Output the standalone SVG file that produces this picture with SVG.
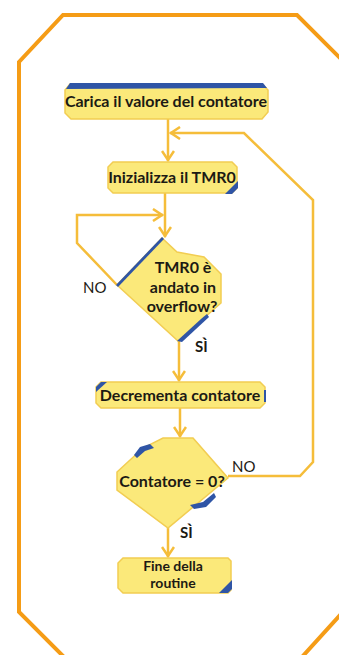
<svg xmlns="http://www.w3.org/2000/svg" width="339" height="655" viewBox="0 0 339 655">
<defs>
<style>
.frame{fill:none;stroke:#f59c16;stroke-width:4;stroke-linejoin:miter}
.box{fill:#fbe97a;stroke:#f2cd52;stroke-width:1.5}
.blue{fill:#2f55a6}
.con{fill:none;stroke:#f5bd3a;stroke-width:2.5;stroke-linejoin:miter}
.t{font-family:Lato,"Open Sans","DejaVu Sans",sans-serif;font-weight:bold;font-size:16px;fill:#1c1a14;text-anchor:middle}
.lbl{font-family:Lato,"Open Sans","DejaVu Sans",sans-serif;font-size:15px;fill:#1c1a14}
</style>
<marker id="ah" viewBox="0 0 12 14" refX="11" refY="7" markerWidth="12" markerHeight="14" markerUnits="userSpaceOnUse" orient="auto">
<path d="M1,1 L10,7 L1,13" fill="none" stroke="#f5bd3a" stroke-width="2.5"/>
</marker>
</defs>
<rect width="339" height="655" fill="#ffffff"/>
<polygon class="frame" points="63,15 297,15 341,59 341,614 302,657 64,657 19,612 19,62"/>
<g id="connectors">
<path class="con" d="M168,119 L168,161" marker-end="url(#ah)"/>
<path class="con" d="M228,476 L300,476 L313,462 L313,200 L244,133 L170,133" marker-end="url(#ah)"/>
<path class="con" d="M165,193 L165,237" marker-end="url(#ah)"/>
<path class="con" d="M117,285 L77,243 L77,215 L163,215" marker-end="url(#ah)"/>
<path class="con" d="M179,341 L179,381" marker-end="url(#ah)"/>
<path class="con" d="M180,408 L180,437" marker-end="url(#ah)"/>
<path class="con" d="M168,528 L168,557" marker-end="url(#ah)"/>
</g>
<g id="n1">
<path class="box" d="M70,84 L262,84 L268,90 L268,112 L262,119 L71,119 L65,113 L65,90 Z"/>
<path class="blue" d="M66,89 L70,83 L263,83 L267,88 Z"/>
<text class="t" x="166" y="107">Carica il valore del contatore</text>
</g>
<g id="n2">
<path class="box" d="M113,162 L232,162 L237,167 L237,188 L232,193 L113,193 L108,188 L108,167 Z"/>
<path class="blue" d="M225,194 L232,194 L238,188 L238,181 Z"/>
<text class="t" x="172" y="183">Inizializza il TMR0</text>
</g>
<g id="n3">
<path class="box" d="M162,238 L177,252 L204,257 L221,274 L221,303 L178,341 L117,285 Z"/>
<path class="blue" d="M116,285 L162,237 L164,239 L118,287 Z"/>
<path class="blue" d="M177,341 L201,319 L207,314 L209,317 L182,342 Z"/>
<text class="t" x="183" y="273">TMR0 è</text>
<text class="t" x="183" y="293">andato in</text>
<text class="t" x="182" y="312">overflow?</text>
</g>
<g id="n4">
<path class="box" d="M101,382 L260,382 L265,387 L265,403 L260,408 L101,408 L96,403 L96,387 Z"/>
<path class="blue" d="M96,392 L96,387 L101,382 L107,382 Z"/>
<rect class="blue" x="264" y="390" width="2" height="12"/>
<text class="t" x="180" y="401">Decrementa contatore</text>
</g>
<g id="n5">
<path class="box" d="M163,438 L193,438 L228,478 L168,528 L117,490 L117,472 L143,448 Z"/>
<path class="blue" d="M140,447 L150,444 L154,448 L145,451 L137,458 L134,455 Z"/>
<path class="blue" d="M190,505 L203,502 L214,493 L216,497 L206,507 L194,509 Z"/>
<text class="t" x="172" y="487">Contatore = 0?</text>
</g>
<g id="n6">
<path class="box" d="M123,558 L228,558 L231,561 L231,590 L228,593 L123,593 L118,588 L118,563 Z"/>
<path class="blue" d="M219,593 L228,593 L232,589 L232,580 Z"/>
<text class="t" x="173" y="571" style="font-size:14px">Fine della</text>
<text class="t" x="173" y="588" style="font-size:14px">routine</text>
</g>
<g id="labels">
<text class="lbl" x="83" y="293">NO</text>
<text class="lbl" x="195" y="352" font-weight="bold">SÌ</text>
<text class="lbl" x="232" y="472">NO</text>
<text class="lbl" x="180" y="538" font-weight="bold">SÌ</text>
</g>
</svg>
